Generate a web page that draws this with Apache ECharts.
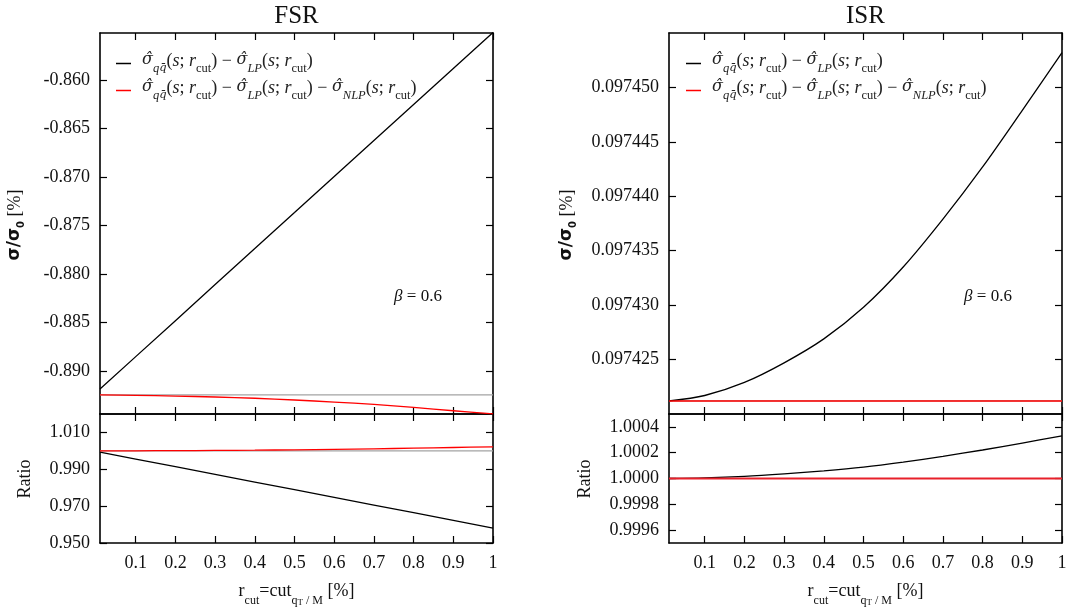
<!DOCTYPE html>
<html><head><meta charset="utf-8">
<script src="https://cdn.jsdelivr.net/npm/echarts@6/dist/echarts.min.js"></script>
<style>html,body{margin:0;padding:0;background:#fff}#c{width:1067px;height:610px}</style>
</head><body><div id="c"></div>
<script>
// ---- data ----
const xs = [0.01, 0.1, 0.2, 0.3, 0.4, 0.5, 0.6, 0.7, 0.8, 0.9, 1.0];
const fsrBlack = [-0.89186, -0.88852, -0.88481, -0.88109, -0.87738, -0.87367, -0.86995, -0.86624, -0.86253, -0.85881, -0.85510];
const fsrRed   = [-0.89247, -0.89251, -0.89258, -0.89268, -0.89281, -0.89299, -0.89320, -0.89345, -0.89376, -0.89410, -0.89443];
const fsrRef   = [-0.89247, -0.89247];
const fsrBlackRatio = [0.99932, 0.99557, 0.99141, 0.98724, 0.98309, 0.97893, 0.97476, 0.97061, 0.96645, 0.96228, 0.95813];
const fsrRedRatio   = [1.00000, 1.00004, 1.00012, 1.00024, 1.00038, 1.00058, 1.00082, 1.00110, 1.00145, 1.00183, 1.00220];
const fsrRefRatio   = [1.0, 1.0];
const isrBlack = [0.0974212, 0.0974217, 0.0974229, 0.0974247, 0.0974269, 0.0974298, 0.0974335, 0.0974379, 0.0974427, 0.0974479, 0.0974532];
const isrRed   = [0.0974212, 0.0974212, 0.0974212, 0.0974212, 0.0974212, 0.0974212, 0.0974212, 0.0974212, 0.0974212, 0.0974212, 0.0974212];
const isrRef   = [0.0974212, 0.0974212];
const isrBlackRatio = [1.000000, 1.000005, 1.000017, 1.000036, 1.000059, 1.000088, 1.000127, 1.000172, 1.000221, 1.000275, 1.000330];
const isrRedRatio   = [1.0, 1.0, 1.0, 1.0, 1.0, 1.0, 1.0, 1.0, 1.0, 1.0, 1.0];
const isrRefRatio   = [1.0, 1.0];
const refXs = [0.01, 1.0];

const xTicks = [0.1, 0.2, 0.3, 0.4, 0.5, 0.6, 0.7, 0.8, 0.9, 1.0];
const fsrTicks = [-0.890, -0.885, -0.880, -0.875, -0.870, -0.865, -0.860];
const fsrRatioTicks = [0.950, 0.970, 0.990, 1.010];
const isrTicks = [0.097425, 0.097430, 0.097435, 0.097440, 0.097445, 0.097450];
const isrRatioTicks = [0.9996, 0.9998, 1.0000, 1.0002, 1.0004];
const titles = ['FSR', 'ISR'];

// ---- helpers ----
const SERIF = 'Liberation Serif';
const pair = (a, b) => a.map((v, i) => [v, b[i]]);
const L = 100, L2 = 669, W = 393, T = 33, H = 381, RT = 414, RH = 129;

const grids = [
  {left: L, top: T, width: W, height: H},
  {left: L, top: RT, width: W, height: RH},
  {left: L2, top: T, width: W, height: H},
  {left: L2, top: RT, width: W, height: RH}
];
grids.forEach(g => { g.containLabel = false; g.outerBoundsMode = 'none'; });

function xAx(gi, pos, showLabel) {
  return {
    type: 'value', gridIndex: gi, position: pos, min: 0.01, max: 1,
    axisLine: {show: true, onZero: false, lineStyle: {color: '#000', width: 1.6}},
    axisTick: {show: true, inside: true, length: 7, customValues: xTicks, lineStyle: {color: '#000', width: 1.2}},
    axisLabel: {show: showLabel, customValues: xTicks, margin: 11, fontFamily: SERIF, fontSize: 18, color: '#111',
      formatter: v => Math.abs(v - 1) < 1e-9 ? '1' : v.toFixed(1)},
    splitLine: {show: false}
  };
}
function yAx(gi, pos, showLabel, min, max, ticks, dec) {
  return {
    type: 'value', gridIndex: gi, position: pos, min: min, max: max, scale: true,
    axisLine: {show: true, onZero: false, lineStyle: {color: '#000', width: 1.6}},
    axisTick: {show: true, inside: true, length: 7, customValues: ticks, lineStyle: {color: '#000', width: 1.2}},
    axisLabel: {show: showLabel, customValues: ticks, margin: 10, fontFamily: SERIF, fontSize: 18, color: '#111',
      formatter: v => v.toFixed(dec)},
    splitLine: {show: false}
  };
}

const xAxis = [], yAxis = [];
const yr = [
  [-0.894433, -0.855155, fsrTicks, 3],
  [0.95, 1.02, fsrRatioTicks, 3],
  [0.097420, 0.097455, isrTicks, 6],
  [0.9995, 1.0005, isrRatioTicks, 4]
];
for (let g = 0; g < 4; g++) {
  xAxis.push(xAx(g, 'bottom', g % 2 === 1));
  xAxis.push(xAx(g, 'top', false));
  yAxis.push(yAx(g, 'left', true, yr[g][0], yr[g][1], yr[g][2], yr[g][3]));
  yAxis.push(yAx(g, 'right', false, yr[g][0], yr[g][1], yr[g][2], yr[g][3]));
}

function line(name, g, data, color, width, smooth) {
  return {
    name: name, type: 'line', xAxisIndex: 2 * g, yAxisIndex: 2 * g, data: data,
    showSymbol: false, symbol: 'none', smooth: smooth, color: color,
    lineStyle: {color: color, width: width}, silent: true, animation: false
  };
}
const GRAY = '#a3a3a3', RED = '#ff0000', BLACK = '#000000';
const series = [
  line('fsrRef', 0, pair(refXs, fsrRef), GRAY, 1.2, false),
  line('FSR black', 0, pair(xs, fsrBlack), BLACK, 1.3, false),
  line('FSR red', 0, pair(xs, fsrRed), RED, 1.3, 0.3),
  line('fsrRefR', 1, pair(refXs, fsrRefRatio), GRAY, 1.2, false),
  line('fsrBlackR', 1, pair(xs, fsrBlackRatio), BLACK, 1.3, false),
  line('fsrRedR', 1, pair(xs, fsrRedRatio), RED, 1.3, 0.3),
  line('isrRef', 2, pair(refXs, isrRef), GRAY, 1.2, false),
  line('ISR black', 2, pair(xs, isrBlack), BLACK, 1.3, 0.3),
  line('ISR red', 2, pair(xs, isrRed), RED, 1.5, false),
  line('isrRefR', 3, pair(refXs, isrRefRatio), GRAY, 1.2, false),
  line('isrBlackR', 3, pair(xs, isrBlackRatio), BLACK, 1.3, 0.3),
  line('isrRedR', 3, pair(xs, isrRedRatio), '#e8202a', 2, false)
];

// legend math text
const common = '{h|σ̂}{si|q}{sh|q̄}{n|(}{i|s}{n|; }{i|r}{sr|cut}{n|) − }{h|σ̂}{si|LP}{n|(}{i|s}{n|; }{i|r}{sr|cut}{n|)}';
const nlp = '{n| − }{h|σ̂}{si|NLP}{n|(}{i|s}{n|; }{i|r}{sr|cut}{n|)}';
const legendText = {'FSR black': common, 'ISR black': common, 'FSR red': common + nlp, 'ISR red': common + nlp};
const C = '#222';
const legRich = {
  i: {fontFamily: SERIF, fontStyle: 'italic', fontSize: 18, color: C, verticalAlign: 'top', lineHeight: 20},
  h: {fontFamily: 'DejaVu Serif', fontStyle: 'italic', fontSize: 16, color: C, verticalAlign: 'top', lineHeight: 20},
  n: {fontFamily: SERIF, fontSize: 18, color: C, verticalAlign: 'top', lineHeight: 20},
  si: {fontFamily: SERIF, fontStyle: 'italic', fontSize: 12.5, color: C, verticalAlign: 'top', padding: [10, 0, 0, 0]},
  sh: {fontFamily: 'DejaVu Serif', fontStyle: 'italic', fontSize: 11.5, color: C, verticalAlign: 'top', padding: [10, 0, 0, 0]},
  sr: {fontFamily: SERIF, fontSize: 12.5, color: C, verticalAlign: 'top', padding: [10, 0, 0, 0]}
};
function legend(left, names) {
  return {
    data: names, left: left, top: 52, orient: 'vertical', icon: 'rect', itemWidth: 15, itemHeight: 1.5,
    itemGap: 4, selectedMode: false, padding: 0,
    formatter: n => legendText[n],
    textStyle: {padding: [0, 0, 0, 6], rich: legRich}
  };
}

const axRich = {
  n: {fontFamily: SERIF, fontSize: 18, color: '#111', verticalAlign: 'top', lineHeight: 22},
  s: {fontFamily: SERIF, fontSize: 12, color: '#111', verticalAlign: 'top', padding: [12, 0, 0, 0]},
  ss: {fontFamily: SERIF, fontSize: 9, color: '#111', verticalAlign: 'top', padding: [16, 0, 0, 0]},
  b: {fontFamily: 'DejaVu Sans', fontWeight: 'bold', fontSize: 17, color: '#111', verticalAlign: 'top', lineHeight: 22},
  bs: {fontFamily: 'DejaVu Sans', fontWeight: 'bold', fontSize: 10, color: '#111', verticalAlign: 'top', padding: [10, 0, 0, 0]}
};
const bRich = {
  i: {fontFamily: SERIF, fontStyle: 'italic', fontSize: 17, color: C},
  n: {fontFamily: SERIF, fontSize: 17, color: C}
};
const xTitle = '{n|r}{s|cut}{n|=cut}{s|q}{ss|T}{s| / M}{n| [%]}';
const yTitle = '{b|σ/σ}{bs|0}{n| [%]}';
const betaText = '{i|β}{n| = 0.6}';
function txt(x, y, text, rich, rot, font) {
  const st = {text: text, align: 'center', verticalAlign: 'middle', fill: '#111'};
  if (rich) st.rich = rich;
  if (font) st.font = font;
  return {type: 'text', x: x, y: y, rotation: rot || 0, silent: true, style: st};
}
const graphic = [
  txt(296.5, 16, titles[0], null, 0, '25px "Liberation Serif"'),
  txt(865.5, 16, titles[1], null, 0, '25px "Liberation Serif"'),
  txt(17, 225, yTitle, axRich, Math.PI / 2),
  txt(569, 225, yTitle, axRich, Math.PI / 2),
  txt(27, 479, '{n|Ratio}', axRich, Math.PI / 2),
  txt(587, 479, '{n|Ratio}', axRich, Math.PI / 2),
  txt(296.5, 595, xTitle, axRich, 0),
  txt(865.5, 595, xTitle, axRich, 0),
  txt(418, 297, betaText, bRich, 0),
  txt(988, 297, betaText, bRich, 0)
];

const chart = echarts.init(document.getElementById('c'), null, {renderer: 'canvas'});
chart.setOption({
  animation: false,
  backgroundColor: '#fff',
  grid: grids, xAxis: xAxis, yAxis: yAxis, series: series,
  legend: [legend(116, ['FSR black', 'FSR red']), legend(686, ['ISR black', 'ISR red'])],
  graphic: graphic
});
</script></body></html>
